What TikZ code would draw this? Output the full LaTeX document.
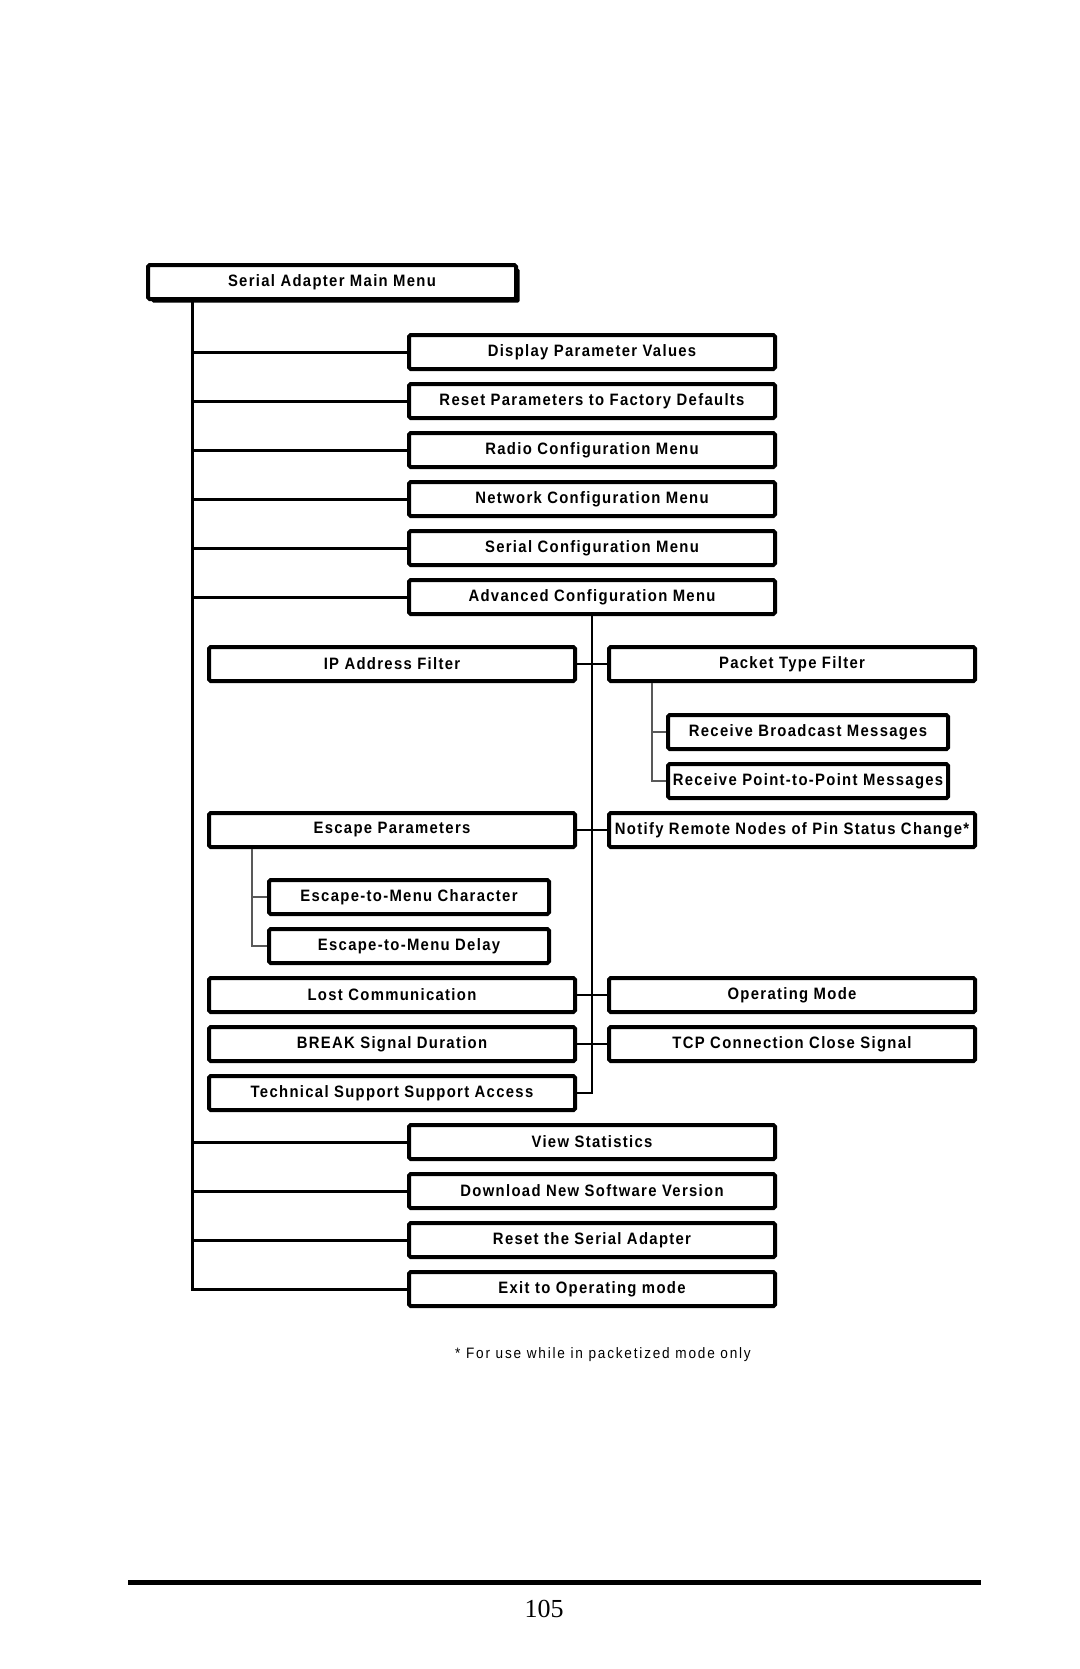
\documentclass[tikz,border=0pt]{standalone}
\usepackage{fontspec}
\setmainfont{Liberation Serif}
\newfontfamily\menufont[FakeStretch=0.9,LetterSpace=8]{Liberation Sans}
\newfontfamily\notefont[FakeStretch=0.9,LetterSpace=12]{Liberation Sans}
\usepackage{tikz}
\usetikzlibrary{shadows}

\tikzset{
  menubox/.style={draw, line width=2pt, fill=white, rounded corners=0.8pt,
    minimum width=183pt, minimum height=17pt, inner sep=0pt,
    font=\menufont\bfseries\fontsize{8.25}{9}\selectfont},
  subbox/.style={menubox, minimum width=140pt},
  trunk/.style={line width=1.5pt},
  branch/.style={line width=0.6pt},
  twig/.style={line width=0.9pt, black!65},
}

\begin{document}
\begin{tikzpicture}[x=0.5pt, y=-0.5pt]

\useasboundingbox (0,0) rectangle (1080,1669);

\node[menubox, minimum width=184pt,
  drop shadow={shadow xshift=1.8pt, shadow yshift=-1.8pt, fill=black, opacity=1}]
  (main) at (332,282) {Serial Adapter Main Menu};

% main menu entries
\foreach \n/\y/\t in {disp/352/Display Parameter Values,
                      reset/401/Reset Parameters to Factory Defaults,
                      radio/450/Radio Configuration Menu,
                      net/499/Network Configuration Menu,
                      serial/548/Serial Configuration Menu,
                      adv/597/Advanced Configuration Menu,
                      stats/1142/View Statistics,
                      dl/1191/Download New Software Version,
                      rsa/1240/Reset the Serial Adapter,
                      exit/1289/Exit to Operating mode} {
	\node[menubox] (\n) at (592,\y) {\t};
}

% advanced menu, left side
\foreach \n/\y/\t in {ipf/664/IP Address Filter,
                      esc/830/Escape Parameters,
                      lost/995/Lost Communication,
                      brk/1044/BREAK Signal Duration,
                      tech/1093/Technical Support Support Access} {
	\node[menubox] (\n) at (392,\y) {\t};
}

% advanced menu, right side
\foreach \n/\y/\t in {pkt/664/Packet Type Filter,
                      notify/830/Notify Remote Nodes of Pin Status Change*,
                      opm/995/Operating Mode,
                      tcp/1044/TCP Connection Close Signal} {
	\node[menubox] (\n) at (792,\y) {\t};
}

\node[subbox] (rbc)  at (808,732) {Receive Broadcast Messages};
\node[subbox] (rp2p) at (808,781) {Receive Point-to-Point Messages};

\node[subbox] (ech) at (409,897) {Escape-to-Menu Character};
\node[subbox] (edl) at (409,946) {Escape-to-Menu Delay};

\coordinate (mt)  at (192,0);
\coordinate (pst) at (652,0);
\coordinate (est) at (252,0);

% main trunk
\draw[trunk] (main.south -| mt) |- (exit.west);
\foreach \n in {disp,reset,radio,net,serial,adv,stats,dl,rsa} {
	\draw[trunk] (\n.west -| mt) -- (\n.west);
}

% advanced trunk
\draw[branch] (adv.south) |- (tech.east);
\draw[branch] (ipf.east) -- (pkt.west);
\draw[branch] (esc.east) -- (notify.west);
\draw[branch] (lost.east) -- (opm.west);
\draw[branch] (brk.east) -- (tcp.west);

% sub menus
\draw[twig] (pkt.south -| pst) |- (rp2p.west);
\draw[twig] (rbc.west -| pst) -- (rbc.west);
\draw[twig] (esc.south -| est) |- (edl.west);
\draw[twig] (ech.west -| est) -- (ech.west);

\node[font=\notefont\fontsize{7.55}{8.5}\selectfont] (note) at (603,1355)
  {* For use while in packetized mode only};

\draw[line width=2.5pt] (128,1582) -- (981,1582);
\node[font=\fontsize{13}{15}\selectfont] (page) at (544,1609) {105};

\end{tikzpicture}
\end{document}
